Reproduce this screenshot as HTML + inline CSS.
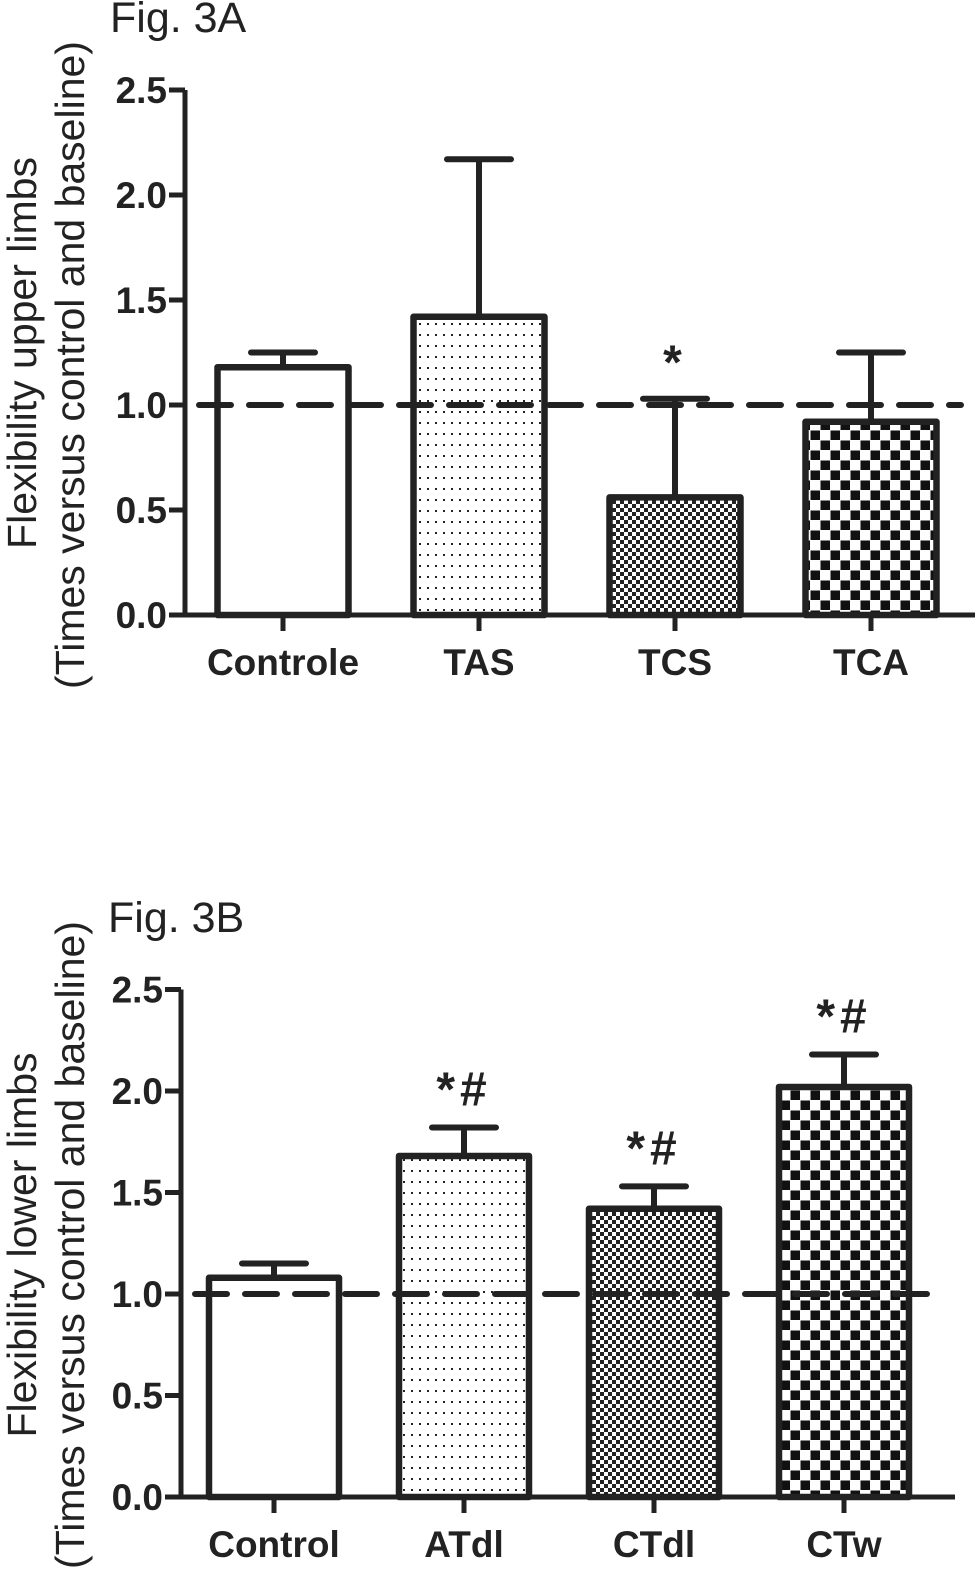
<!DOCTYPE html>
<html><head><meta charset="utf-8"><style>
html,body{margin:0;padding:0;background:#fff;}
svg{display:block;font-family:"Liberation Sans",Arial,sans-serif;}
</style></head><body>
<svg id="fig" width="977" height="1574" viewBox="0 0 977 1574" xmlns="http://www.w3.org/2000/svg">
<defs>
<pattern id="dots" width="8" height="11" patternUnits="userSpaceOnUse"><rect width="8" height="11" fill="#fff"/><rect x="3" y="4" width="2" height="2" fill="#222"/></pattern>
<pattern id="fine" width="8" height="8" patternUnits="userSpaceOnUse"><rect width="8" height="8" fill="#fff"/><rect width="4" height="4" fill="#222"/><rect x="4" y="4" width="4" height="4" fill="#222"/></pattern>
<pattern id="coarse" width="20" height="20" patternUnits="userSpaceOnUse"><rect width="20" height="20" fill="#fff"/><rect x="0.5" y="0.5" width="9.5" height="9.5" fill="#111"/><rect x="10.5" y="10.5" width="9.5" height="9.5" fill="#111"/></pattern>
</defs>
<g id="chartA"></g>
<g id="chartB"></g>
</svg>
<script>
const catsA = ["Controle","TAS","TCS","TCA"];
const meansA = [1.18, 1.42, 0.56, 0.92];
const errA = [1.25, 2.17, 1.03, 1.25];
const annA = ["", "", "*", ""];
const catsB = ["Control","ATdl","CTdl","CTw"];
const meansB = [1.08, 1.68, 1.42, 2.02];
const errB = [1.15, 1.82, 1.53, 2.18];
const annB = ["", "*#", "*#", "*#"];
const ticks = [0, 0.5, 1.0, 1.5, 2.0, 2.5];
const tickLabels = ["0.0","0.5","1.0","1.5","2.0","2.5"];
const baseline = 1.0;
const fills = ["#fff","url(#dots)","url(#fine)","url(#coarse)"];
const NS = "http://www.w3.org/2000/svg";

function mk(parent, tag, attrs, text){
  const e = document.createElementNS(NS, tag);
  for (const k in attrs) e.setAttribute(k, attrs[k]);
  if (text !== undefined) e.textContent = text;
  parent.appendChild(e);
  return e;
}

function draw(g, cfg, cats, means, errs, anns){
  const y = v => cfg.y0 - v * cfg.unit;
  const x = i => cfg.x0 + i * cfg.step;
  const t = mk(g,'text',{x:cfg.figX,y:cfg.figY,'font-size':43,fill:'#222'},cfg.fig);
  
  
  const yt = mk(g,'text',{transform:`translate(36,${cfg.titleY}) rotate(-90)`,'text-anchor':'middle','font-size':41,fill:'#222'},cfg.title1);
  
  
  const yt2 = mk(g,'text',{transform:`translate(84,${cfg.titleY2}) rotate(-90)`,'text-anchor':'middle','font-size':41,fill:'#222'},"(Times versus control and baseline)");
  
  
  for (let i=0;i<cats.length;i++){
    const cx = x(i);
    const top = y(means[i]);
    const eb = mk(g,'path',{d:`M${cx} ${top} V${y(errs[i])} M${cx-32} ${y(errs[i])} H${cx+32}`,stroke:'#222','stroke-width':6,'stroke-linecap':'round',fill:'none'});
    
    
    const r = mk(g,'rect',{x:cx-cfg.bw/2,y:top,width:cfg.bw,height:cfg.y0-top,fill:fills[i],stroke:'#222','stroke-width':6.5,'stroke-linejoin':'round'});
    
    
    if (anns[i]){
      const a = mk(g,'text',{x:cx,y:y(errs[i])-cfg.annOff,'text-anchor':'middle','font-size':48,'font-weight':'bold',fill:'#222','letter-spacing':'5'},anns[i]);
      
      
    }
    const tk = mk(g,'line',{x1:cx,y1:cfg.y0,x2:cx,y2:cfg.y0+16,stroke:'#222','stroke-width':5});
    
    
    const lb = mk(g,'text',{x:cx,y:cfg.y0+60,'text-anchor':'middle','font-size':37,'font-weight':'bold',fill:'#222'},cats[i]);
    
    
  }
  const dl = mk(g,'line',{x1:cfg.ax+14,y1:y(baseline),x2:cfg.xEnd-14,y2:y(baseline),stroke:'#222','stroke-width':6,'stroke-dasharray':'32 18','stroke-linecap':'round'});
  
  
  const ya = mk(g,'line',{x1:cfg.ax,y1:y(2.5),x2:cfg.ax,y2:cfg.y0,stroke:'#222','stroke-width':5});
  
  
  const xa = mk(g,'line',{x1:cfg.ax-16,y1:cfg.y0,x2:cfg.xEnd,y2:cfg.y0,stroke:'#222','stroke-width':5});
  
  
  for (let k=0;k<ticks.length;k++){
    const yy = y(ticks[k]);
    const l = mk(g,'line',{x1:cfg.ax-16,y1:yy,x2:cfg.ax,y2:yy,stroke:'#222','stroke-width':5});
    
    
    const tl = mk(g,'text',{x:cfg.ax-18,y:yy+13,'text-anchor':'end','font-size':37,'font-weight':'bold',fill:'#222'},tickLabels[k]);
    
    
  }
}

draw(document.getElementById('chartA'),
  {y0:615,unit:210,x0:283,step:196,bw:131,ax:185,xEnd:975,fig:"Fig. 3A",figX:110,figY:32,
   title1:"Flexibility upper limbs",titleY:353,titleY2:365,annOff:20},
  catsA,meansA,errA,annA);
draw(document.getElementById('chartB'),
  {y0:1497,unit:203,x0:274,step:190,bw:130,ax:181,xEnd:955,fig:"Fig. 3B",figX:108,figY:932,
   title1:"Flexibility lower limbs",titleY:1245,titleY2:1245,annOff:22},
  catsB,meansB,errB,annB);
</script>
</body></html>
